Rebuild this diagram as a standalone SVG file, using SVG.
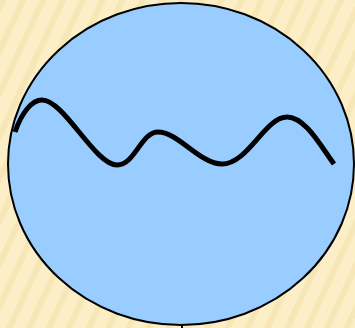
<svg xmlns="http://www.w3.org/2000/svg" width="355" height="328" viewBox="0 0 355 328">
<defs>
<pattern id="stripes" patternUnits="userSpaceOnUse" width="18" height="18" patternTransform="rotate(25)">
<rect width="18" height="18" fill="#FCEFC8"/>
<rect width="6" height="18" fill="#F7E6B6"/>
</pattern>
<style>
.wave{fill:none;stroke:#000;stroke-width:5;stroke-linecap:butt;stroke-linejoin:round}
</style>
</defs>
<rect width="355" height="328" fill="url(#stripes)"/>
<g id="circle">
<ellipse cx="181" cy="164" rx="173" ry="161" fill="#99CCFF" stroke="#000" stroke-width="2"/>
</g>
<g id="wave">
<path class="wave" d="M15,132 C22,112 32,100 42,100 C64,100 95,165 117,165 C135,165 141,132 158,132 C178,132 200,164 222,164 C248,164 265,117 287,117 C305,117 320,145 334,164"/>
</g>
<g id="connectors">
<line x1="182" y1="324" x2="182" y2="328" stroke="#000" stroke-width="2"/>
</g>
</svg>
